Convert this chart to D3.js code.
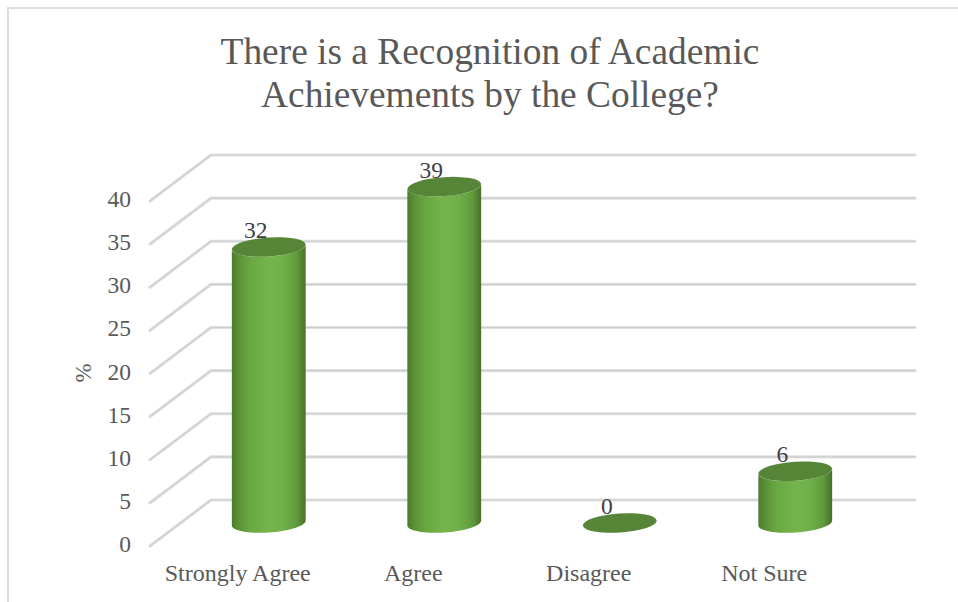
<!DOCTYPE html>
<html>
<head>
<meta charset="utf-8">
<script src="https://cdn.jsdelivr.net/npm/d3@7"></script>
<style>
body { margin: 0; background: #fff; }
text { font-family: "Liberation Serif", serif; fill: #595959; }
</style>
</head>
<body>
<svg id="chart" width="958" height="602" style="display:block"></svg>
<script>
const categories = ["Strongly Agree", "Agree", "Disagree", "Not Sure"];
const values = [32, 39, 0, 6];
const yTicks = [0, 5, 10, 15, 20, 25, 30, 35, 40];
const titleLines = ["There is a Recognition of Academic", "Achievements by the College?"];

const svg = d3.select("#chart");

// depth offset between the front edge of the floor and the back wall
const depthX = 61, depthY = -46;
const y = d3.scaleLinear().domain([0, 40]).range([546, 201]);
const x = d3.scaleBand().domain(categories).range([150, 852]).padding(0);
const rx = 37, ry = 9.5, tilt = -4 * Math.PI / 180;
// bars sit part way into the floor
const barDx = 31, barDy = -23;

// point on the tilted ellipse, t in radians
function ellipsePt(t, cy) {
    let ex = rx * Math.cos(t), ey = ry * Math.sin(t);
    return [ex * Math.cos(tilt) - ey * Math.sin(tilt), cy + ex * Math.sin(tilt) + ey * Math.cos(tilt)];
}

// frame
svg.append("path")
    .attr("d", "M8,602V8H958")
    .attr("fill", "none")
    .attr("stroke", "#dedede")
    .attr("stroke-width", 2);

// gridlines, a wide pale stroke with a darker core
yTicks.forEach(t => {
    [[3.2, "#e0e0e0"], [1.2, "#cdcdcd"]].forEach(s => {
        svg.append("path")
            .attr("d", `M150,${y(t)}L${150 + depthX},${y(t) + depthY}H915`)
            .attr("fill", "none")
            .attr("stroke", s[1])
            .attr("stroke-width", s[0])
            .attr("stroke-linecap", "round")
            .attr("stroke-linejoin", "round");
    });
});

// y axis labels
svg.selectAll(".ytick")
    .data(yTicks)
    .enter()
    .append("text")
    .attr("class", "ytick")
    .attr("x", 131)
    .attr("y", d => y(d) + 6)
    .attr("text-anchor", "end")
    .style("font-size", "23.5px")
    .text(d => d);

svg.append("text")
    .attr("transform", "translate(91,373) rotate(-90)")
    .attr("text-anchor", "middle")
    .style("font-size", "23px")
    .text("%");

// title
svg.selectAll(".title")
    .data(titleLines)
    .enter()
    .append("text")
    .attr("class", "title")
    .attr("x", 490)
    .attr("y", (d, i) => 63.5 + i * 43)
    .attr("text-anchor", "middle")
    .style("font-size", "37.4px")
    .text(d => d);

// category labels
svg.selectAll(".cat")
    .data(categories)
    .enter()
    .append("text")
    .attr("class", "cat")
    .attr("x", d => x(d) + x.bandwidth() / 2)
    .attr("y", 581)
    .attr("text-anchor", "middle")
    .style("font-size", "24px")
    .text(d => d);

// bar shading
const defs = svg.append("defs");
const grad = defs.append("linearGradient").attr("id", "barGrad");
[[0, "#4e7a30"], [0.1, "#5c9238"], [0.25, "#69a842"], [0.5, "#74b54b"], [0.7, "#6fb04a"], [0.88, "#5f9a3a"], [1, "#47702c"]].forEach(s => {
    grad.append("stop").attr("offset", s[0]).attr("stop-color", s[1]);
});

const barX = d => x(d) + x.bandwidth() / 2 + barDx;
const outline = d3.line();

const bars = svg.selectAll(".bar")
    .data(categories.map((c, i) => ({ cat: c, val: values[i] })))
    .enter()
    .append("g")
    .attr("class", "bar")
    .attr("transform", d => `translate(${barX(d.cat)},0)`);

bars.filter(d => d.val > 0)
    .append("path")
    .attr("fill", "url(#barGrad)")
    .attr("d", d => {
        const top = y(d.val) + barDy, base = y(0) + barDy;
        // lower half of the base, then back along the upper half of the top
        const lower = d3.range(180, -1, -5).map(a => ellipsePt(a * Math.PI / 180, base));
        const upper = d3.range(0, 181, 5).map(a => ellipsePt(a * Math.PI / 180, top));
        return outline(lower.concat(upper)) + "Z";
    });

bars.append("ellipse")
    .attr("transform", d => `translate(0,${y(d.val) + barDy}) rotate(-4)`)
    .attr("rx", rx)
    .attr("ry", ry)
    .attr("fill", "#578537");

// value labels
bars.append("text")
    .attr("x", -13)
    .attr("y", d => y(d.val) + barDy - 9)
    .attr("text-anchor", "middle")
    .style("font-size", "23.5px")
    .style("fill", "#404040")
    .text(d => d.val);
</script>
</body>
</html>
